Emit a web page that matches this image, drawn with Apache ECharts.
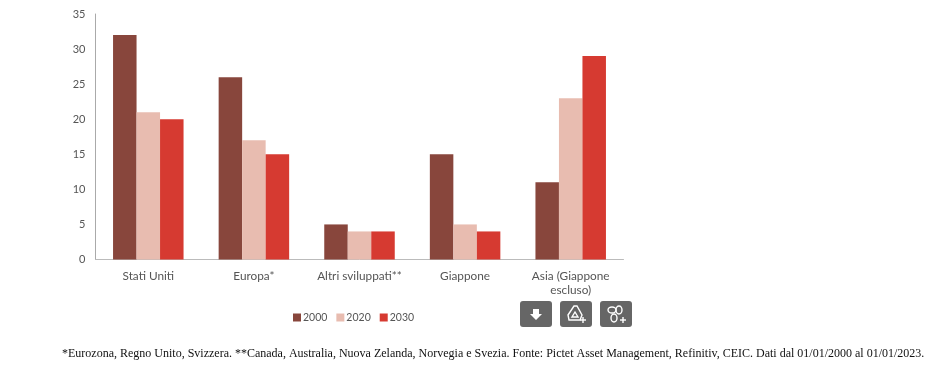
<!DOCTYPE html>
<html>
<head>
<meta charset="utf-8">
<title>Chart</title>
<script src="https://cdn.jsdelivr.net/npm/echarts@6/dist/echarts.min.js"></script>
<style>
  html, body { margin: 0; padding: 0; background: #fff; }
  #chart { width: 945px; height: 376px; }
</style>
</head>
<body>
<div id="chart"></div>
<script>
const categories = ['Stati Uniti', 'Europa*', 'Altri sviluppati**', 'Giappone', 'Asia (Giappone\nescluso)']
const values2000 = [32, 26, 5, 15, 11]
const values2020 = [21, 17, 4, 5, 23]
const values2030 = [20, 15, 4, 4, 29]
const footnote = '*Eurozona, Regno Unito, Svizzera. **Canada, Australia, Nuova Zelanda, Norvegia e Svezia. Fonte: Pictet Asset Management, Refinitiv, CEIC. Dati dal 01/01/2000 al 01/01/2023.'

const myChart = echarts.init(document.getElementById('chart'), null, { renderer: 'canvas' })

function makeSeries(name, data, color) {
  return {
    name: name,
    type: 'bar',
    barWidth: 23.5,
    barGap: 0,
    itemStyle: { color: color },
    data: data
  }
}

function makeButton(x, children) {
  return {
    type: 'group',
    x: x,
    y: 301,
    children: [
      { type: 'rect', shape: { x: 0, y: 0, width: 32, height: 26, r: 3 }, style: { fill: '#666666' } }
    ].concat(children)
  }
}

const iconLine = { stroke: '#fff', fill: 'none', lineWidth: 1.4 }
const plusH = { type: 'line', shape: { x1: 20, y1: 19, x2: 26, y2: 19 }, style: iconLine }
const plusV = { type: 'line', shape: { x1: 23, y1: 16, x2: 23, y2: 22 }, style: iconLine }

myChart.setOption({
  animation: false,
  textStyle: { fontFamily: 'Lato' },
  grid: { left: 95.5, right: 321.5, top: 14, bottom: 116.5 },
  legend: {
    left: 288,
    top: 307,
    itemWidth: 8,
    itemHeight: 8,
    itemGap: 9,
    icon: 'rect',
    textStyle: { fontSize: 10.5, color: '#555', padding: [0, 0, 0, -3] },
    data: ['2000', '2020', '2030']
  },
  xAxis: {
    type: 'category',
    data: categories,
    axisTick: { show: false },
    axisLine: { lineStyle: { color: '#bbbbbb', width: 1 } },
    axisLabel: { color: '#555', fontSize: 11.8, margin: 9.5, lineHeight: 14, interval: 0 }
  },
  yAxis: {
    type: 'value',
    min: 0,
    max: 35,
    interval: 5,
    axisTick: { show: false },
    axisLine: { show: true, lineStyle: { color: '#aaaaaa', width: 1 } },
    axisLabel: { color: '#555', fontSize: 11, margin: 10 },
    splitLine: { show: false }
  },
  series: [
    makeSeries('2000', values2000, '#88463c'),
    makeSeries('2020', values2020, '#e8bcb0'),
    makeSeries('2030', values2030, '#d63a31')
  ],
  graphic: [
    makeButton(520, [
      { type: 'polygon', shape: { points: [[13, 8], [19, 8], [19, 13], [22, 13], [16, 19], [10, 13], [13, 13]] }, style: { fill: '#fff' } }
    ]),
    makeButton(560, [
      { type: 'polygon', shape: { points: [[14, 5], [17, 5], [22, 14], [20, 19], [9, 19], [8, 14]] }, style: iconLine },
      { type: 'polygon', shape: { points: [[15, 11], [18, 16], [12, 16]] }, style: iconLine },
      plusH,
      plusV
    ]),
    makeButton(600, [
      { type: 'ellipse', shape: { cx: 12, cy: 9, rx: 4, ry: 3 }, style: iconLine },
      { type: 'ellipse', shape: { cx: 19, cy: 9, rx: 3, ry: 4 }, style: iconLine },
      { type: 'ellipse', shape: { cx: 14, cy: 17, rx: 3, ry: 4 }, style: iconLine },
      plusH,
      plusV
    ]),
    {
      type: 'text',
      x: 62,
      y: 348,
      style: { text: footnote, font: '12px "Liberation Serif"', fill: '#111' }
    }
  ]
})
</script>
</body>
</html>
